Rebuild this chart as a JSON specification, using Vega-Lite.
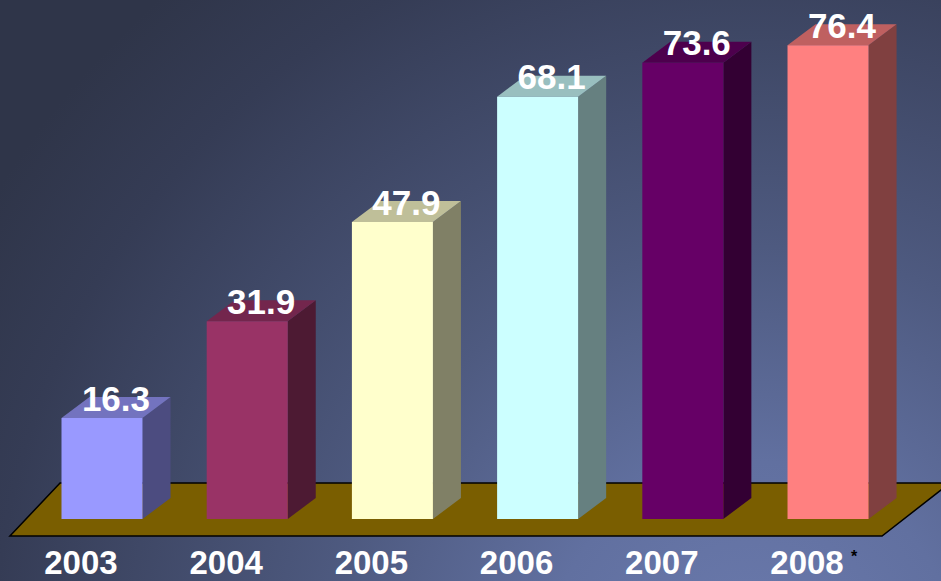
{
  "$schema": "https://vega.github.io/schema/vega-lite/v6.json",
  "width": 941,
  "height": 581,
  "autosize": {"type": "fit", "contains": "padding"},
  "padding": 0,
  "background": "#3f4866",
  "config": {
    "view": {"stroke": null},
    "text": {"font": "Liberation Sans"}
  },
  "data": {
    "values": [
      {"year": 2003, "value": 16.3},
      {"year": 2004, "value": 31.9},
      {"year": 2005, "value": 47.9},
      {"year": 2006, "value": 68.1},
      {"year": 2007, "value": 73.6},
      {"year": 2008, "value": 76.4}
    ]
  },
  "resolve": {"scale": {"color": "independent"}},
  "layer": [
    {
      "transform": [
        {"filter": "datum.year == 2003"},
        {"calculate": "2002.2975", "as": "bx"},
        {"calculate": "2008.778", "as": "bx2"},
        {"calculate": "-10", "as": "by"},
        {"calculate": "83.71", "as": "by2"}
      ],
      "mark": {
        "type": "rect",
        "fill": {
          "gradient": "radial",
          "x1": 0.8, "y1": 0.9, "r1": 0,
          "x2": 0.8, "y2": 0.9, "r2": 0.95,
          "stops": [
            {"offset": 0, "color": "#6b7aad"},
            {"offset": 0.23, "color": "#6170a0"},
            {"offset": 0.47, "color": "#4e5a80"},
            {"offset": 0.85, "color": "#353c55"},
            {"offset": 1, "color": "#2f3549"}
          ]
        }
      },
      "encoding": {
        "x": {"field": "bx", "type": "quantitative", "axis": null, "scale": {"domain": [2002.2975, 2008.778], "nice": false, "zero": false}},
        "x2": {"field": "bx2"},
        "y": {"field": "by", "type": "quantitative", "axis": null, "scale": {"domain": [-10, 83.71], "nice": false, "zero": false}},
        "y2": {"field": "by2"}
      }
    },
    {
      "transform": [
        {"filter": "datum.year == 2003"},
        {"calculate": "[0, 1]", "as": "ks"},
        {"flatten": ["ks"], "as": ["k"]},
        {"calculate": "datum.k == 0 ? -2.742 : 5.806", "as": "fy"},
        {"calculate": "datum.k == 0 ? 2002.366 : 2002.711", "as": "fx"},
        {"calculate": "datum.k == 0 ? 2008.372 : 2008.84", "as": "fx2"}
      ],
      "mark": {"type": "area", "orient": "horizontal", "fill": "#7a5e00", "stroke": "#000000", "strokeWidth": 1.5, "clip": true},
      "encoding": {
        "y": {"field": "fy", "type": "quantitative", "axis": null},
        "x": {"field": "fx", "type": "quantitative", "axis": null},
        "x2": {"field": "fx2"}
      }
    },
    {
      "transform": [
        {"calculate": "[0, 1]", "as": "ks"},
        {"flatten": ["ks"], "as": ["k"]},
        {"calculate": "datum.year + 0.279 + datum.k * 0.193", "as": "sx"},
        {"calculate": "datum.k * 3.39", "as": "sy"},
        {"calculate": "datum.value + datum.k * 3.39", "as": "sy2"}
      ],
      "mark": {"type": "area", "orient": "vertical"},
      "encoding": {
        "x": {"field": "sx", "type": "quantitative", "axis": null},
        "y": {"field": "sy", "type": "quantitative", "axis": null},
        "y2": {"field": "sy2"},
        "detail": {"field": "year", "type": "nominal"},
        "color": {"field": "year", "type": "nominal", "legend": null,
          "scale": {"domain": [2003, 2004, 2005, 2006, 2007, 2008], "range": ["#4c4c80", "#4d1a33", "#808066", "#668080", "#330033", "#804040"]}}
      }
    },
    {
      "transform": [
        {"calculate": "[0, 1]", "as": "ks"},
        {"flatten": ["ks"], "as": ["k"]},
        {"calculate": "datum.year - 0.279 + datum.k * 0.193", "as": "tx"},
        {"calculate": "datum.year + 0.279 + datum.k * 0.193", "as": "tx2"},
        {"calculate": "datum.value + datum.k * 3.39", "as": "ty"}
      ],
      "mark": {"type": "area", "orient": "horizontal"},
      "encoding": {
        "x": {"field": "tx", "type": "quantitative", "axis": null},
        "x2": {"field": "tx2"},
        "y": {"field": "ty", "type": "quantitative", "axis": null},
        "detail": {"field": "year", "type": "nominal"},
        "color": {"field": "year", "type": "nominal", "legend": null,
          "scale": {"domain": [2003, 2004, 2005, 2006, 2007, 2008], "range": ["#7373bf", "#73264d", "#bfbf99", "#99bfbf", "#4d004d", "#bf6060"]}}
      }
    },
    {
      "transform": [
        {"calculate": "datum.year - 0.279", "as": "fx"},
        {"calculate": "datum.year + 0.279", "as": "fx2"},
        {"calculate": "0", "as": "base"}
      ],
      "mark": {"type": "rect"},
      "encoding": {
        "x": {"field": "fx", "type": "quantitative", "axis": null},
        "x2": {"field": "fx2"},
        "y": {"field": "base", "type": "quantitative", "axis": null},
        "y2": {"field": "value"},
        "color": {"field": "year", "type": "nominal", "legend": null,
          "scale": {"domain": [2003, 2004, 2005, 2006, 2007, 2008], "range": ["#9999ff", "#993366", "#ffffcc", "#ccffff", "#660066", "#ff8080"]}}
      }
    },
    {
      "transform": [
        {"calculate": "datum.year + 0.096", "as": "lx"},
        {"calculate": "datum.value + 1.2", "as": "ly"}
      ],
      "mark": {"type": "text", "fontSize": 35, "fontWeight": "bold", "color": "#ffffff", "align": "center", "baseline": "alphabetic"},
      "encoding": {
        "x": {"field": "lx", "type": "quantitative", "axis": null},
        "y": {"field": "ly", "type": "quantitative", "axis": null},
        "text": {"field": "value", "type": "quantitative", "format": ".1f"}
      }
    },
    {
      "transform": [
        {"calculate": "datum.year - 0.145", "as": "yx"},
        {"calculate": "-8.85", "as": "yy"}
      ],
      "mark": {"type": "text", "fontSize": 33, "fontWeight": "bold", "color": "#ffffff", "align": "center", "baseline": "alphabetic", "clip": true},
      "encoding": {
        "x": {"field": "yx", "type": "quantitative", "axis": null},
        "y": {"field": "yy", "type": "quantitative", "axis": null},
        "text": {"field": "year", "type": "nominal"}
      }
    },
    {
      "transform": [
        {"filter": "datum.year == 2008"},
        {"calculate": "datum.year + 0.179", "as": "ax"},
        {"calculate": "-6.9", "as": "ay"}
      ],
      "mark": {"type": "text", "fontSize": 16, "fontWeight": "bold", "color": "#000000", "align": "center", "baseline": "alphabetic", "text": "*"},
      "encoding": {
        "x": {"field": "ax", "type": "quantitative", "axis": null},
        "y": {"field": "ay", "type": "quantitative", "axis": null}
      }
    }
  ]
}
